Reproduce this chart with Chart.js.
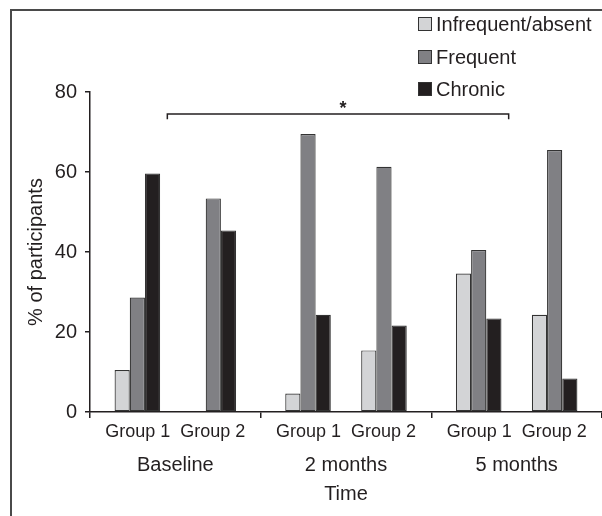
<!DOCTYPE html>
<html>
<head>
<meta charset="utf-8">
<script src="https://cdn.jsdelivr.net/npm/chart.js@4.4.1/dist/chart.umd.min.js"></script>
<style>
  html, body { margin: 0; padding: 0; background: #fff; }
  #wrap { position: relative; width: 602px; height: 516px; overflow: hidden; font-family: 'Liberation Sans', Arial, sans-serif; }
  #frame { position: absolute; left: 10px; top: 9px; width: 700px; height: 600px; border-left: 2px solid #4a4a4a; border-top: 2px solid #4a4a4a; }
  #chart { position: absolute; left: 0; top: 0; }
  #legend { position: absolute; left: 418px; top: 0; }
  .row { position: absolute; left: 0; display: flex; align-items: center; white-space: nowrap; font-size: 20px; color: #231f20; }
  .box { width: 12px; height: 12px; border: 1px solid #333; margin-right: 4px; }
</style>
</head>
<body>
<div id="wrap">
  <div id="frame"></div>
  <canvas id="chart" width="602" height="516"></canvas>
  <div id="legend"></div>
</div>
<script>
// --- Data ---
const timeLabels = ['Baseline', '2 months', '5 months'];
const groupLabels = ['Group 1', 'Group 2'];
const seriesNames = ['Infrequent/absent', 'Frequent', 'Chronic'];
const seriesColors = ['#d3d4d6', '#808084', '#231f20'];

const infrequentG1 = [10.5, 4.6, 34.6];
const frequentG1 = [28.6, 69.5, 40.5];
const chronicG1 = [59.6, 24.3, 23.4];
const infrequentG2 = [null, 15.4, 24.3];
const frequentG2 = [53.4, 61.3, 65.5];
const chronicG2 = [45.4, 21.6, 8.4];
const yTicks = [0, 20, 40, 60, 80];

const FONT = "'Liberation Sans', Arial, sans-serif";
const INK = '#231f20';

const bar = (label, data, i) => ({
    label, data,
    backgroundColor: seriesColors[i],
    borderColor: '#333',
    borderWidth: 1.2,
    borderSkipped: false
});
// two empty slots keep the gap between group 1 and group 2 inside each time point
const gap = () => ({ label: '', data: [null, null, null] });

const datasets = [
    bar(seriesNames[0], infrequentG1, 0),
    bar(seriesNames[1], frequentG1, 1),
    bar(seriesNames[2], chronicG1, 2),
    gap(), gap(),
    bar(seriesNames[0], infrequentG2, 0),
    bar(seriesNames[1], frequentG2, 1),
    bar(seriesNames[2], chronicG2, 2)
];

// --- Legend (html) ---
const legendEl = document.getElementById('legend');
const legendY = [24, 57, 89];
seriesNames.forEach((name, i) => {
    const row = document.createElement('div');
    row.className = 'row';
    row.style.top = (legendY[i] - 12) + 'px';
    row.style.height = '24px';
    row.innerHTML = `<span class="box" style="background:${seriesColors[i]}"></span><span>${name}</span>`;
    legendEl.appendChild(row);
});

// significance bracket between group 1 at baseline and group 1 at 5 months
const bracket = {
    id: 'bracket',
    afterDatasetsDraw(chart) {
        const { ctx, scales: { x, y } } = chart;
        const x1 = x.getPixelForValue(0) - 8;
        const x2 = x.getPixelForValue(2) - 8;
        const yTop = y.getPixelForValue(74.5);
        const yEnd = y.getPixelForValue(73.2);
        ctx.save();
        ctx.strokeStyle = INK;
        ctx.lineWidth = 1.5;
        ctx.beginPath();
        ctx.moveTo(x1, yEnd);
        ctx.lineTo(x1, yTop);
        ctx.lineTo(x2, yTop);
        ctx.lineTo(x2, yEnd);
        ctx.stroke();
        ctx.fillStyle = INK;
        ctx.font = 'bold 18px ' + FONT;
        ctx.textAlign = 'center';
        ctx.textBaseline = 'middle';
        ctx.fillText('*', x.getPixelForValue(1) - 3, yTop - 5);
        ctx.restore();
    }
};

new Chart(document.getElementById('chart'), {
    type: 'bar',
    data: { labels: timeLabels, datasets },
    options: {
        responsive: false,
        animation: false,
        events: [],
        layout: { padding: { left: 14, top: 92, right: 0, bottom: 0 } },
        datasets: { bar: { categoryPercentage: 0.712, barPercentage: 1 } },
        plugins: { legend: { display: false }, tooltip: { enabled: false } },
        scales: {
            x: {
                afterFit: s => { s.height = 31; },
                grid: { offset: true, drawOnChartArea: false, drawTicks: true, tickLength: 6, color: INK, lineWidth: 1.5 },
                border: { color: INK, width: 1.5 },
                ticks: {
                    autoSkip: false, maxRotation: 0, padding: 3,
                    color: INK,
                    font: { family: FONT, size: 18 },
                    callback: () => groupLabels.join('  ')
                }
            },
            x2: {
                type: 'category',
                position: 'bottom',
                labels: timeLabels,
                afterFit: s => { s.height = 73; },
                grid: { display: false, drawTicks: false },
                border: { display: false },
                ticks: { autoSkip: false, maxRotation: 0, padding: 10, color: INK, font: { family: FONT, size: 20 } },
                title: { display: true, text: 'Time', color: INK, font: { family: FONT, size: 20 }, padding: { top: 0, bottom: 10 } }
            },
            y: {
                min: 0, max: 80,
                afterFit: s => { s.width = 76; },
                afterBuildTicks: s => { s.ticks = yTicks.map(v => ({ value: v })); },
                grid: { drawOnChartArea: false, drawTicks: true, tickLength: 5, color: INK, lineWidth: 1.5 },
                border: { color: INK, width: 1.5 },
                ticks: { padding: 8, color: INK, font: { family: FONT, size: 20 } },
                title: { display: true, text: '% of participants', color: INK, font: { family: FONT, size: 20 }, padding: { top: 10, bottom: 0 } }
            }
        }
    },
    plugins: [bracket]
});
</script>
</body>
</html>
